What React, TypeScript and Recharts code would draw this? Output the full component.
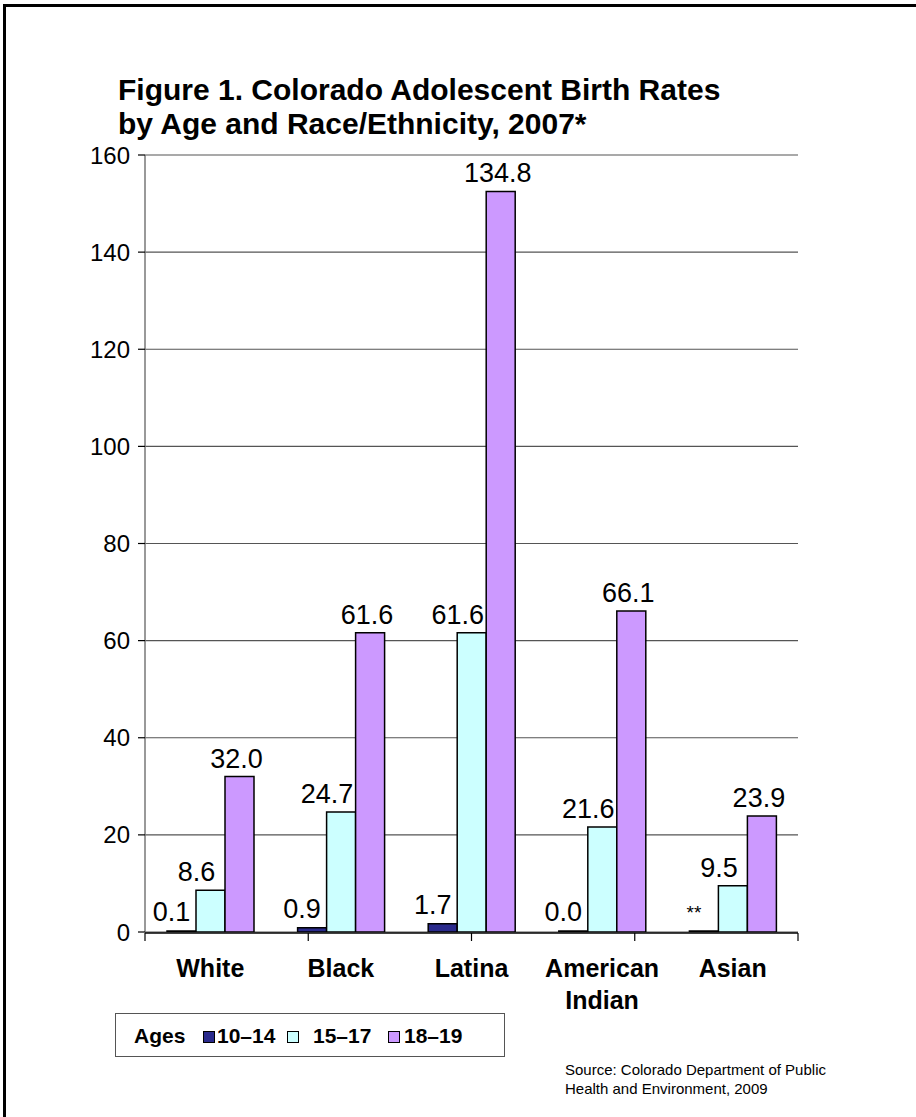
import React from "react";
import { BarChart, Bar, XAxis, YAxis, CartesianGrid, LabelList } from "recharts";

const CATEGORIES = ["White", "Black", "Latina", "American Indian", "Asian"];
const AGES_10_14 = [0.1, 0.9, 1.7, 0.0, 0];
const AGES_15_17 = [8.6, 24.7, 61.6, 21.6, 9.5];
// bar heights as drawn in the figure (the Latina bar is drawn well above its 134.8 label)
const AGES_18_19 = [32.0, 61.6, 152.5, 66.1, 23.9];
const LABELS_10_14 = ["0.1", "0.9", "1.7", "0.0", "**"];
const LABELS_15_17 = ["8.6", "24.7", "61.6", "21.6", "9.5"];
const LABELS_18_19 = ["32.0", "61.6", "134.8", "66.1", "23.9"];
const Y_TICKS = [0, 20, 40, 60, 80, 100, 120, 140, 160];
const BOUNDARY_TICKS = [0, 1, 2, 3, 4, 5];

const SERIES = [
  { key: "a", name: "10–14", color: "#2a2a8c" },
  { key: "b", name: "15–17", color: "#ccffff" },
  { key: "c", name: "18–19", color: "#cc99ff" },
];

const FONT = "Arial, 'Liberation Sans', sans-serif";

const data = CATEGORIES.map((name, i) => ({
  name,
  a: AGES_10_14[i],
  b: AGES_15_17[i],
  c: AGES_18_19[i],
  aLabel: LABELS_10_14[i],
  bLabel: LABELS_15_17[i],
  cLabel: LABELS_18_19[i],
}));

function CategoryTick(props: { x?: number; y?: number; payload?: { value?: string } }) {
  const { x = 0, y = 0, payload } = props;
  const words = String(payload?.value ?? "").split(" ");
  return (
    <text
      x={x}
      y={y}
      textAnchor="middle"
      fontFamily={FONT}
      fontWeight="bold"
      fontSize={25}
      fill="#000"
    >
      {words.map((w, i) => (
        <tspan key={i} x={x} dy={i === 0 ? 37 : 32}>
          {w}
        </tspan>
      ))}
    </text>
  );
}

function SmallLabel(props: {
  x?: number;
  y?: number;
  width?: number;
  value?: string | number;
}) {
  const { x = 0, y = 0, width = 0, value } = props;
  const stars = value === "**";
  return (
    <text
      x={x + width / 2 - 10}
      y={y - (stars ? 12 : 10)}
      textAnchor="middle"
      fontFamily={FONT}
      fontSize={stars ? 19 : 27}
      fill="#000"
    >
      {value}
    </text>
  );
}

const legendSwatch = (color: string) => ({
  position: "absolute" as const,
  top: 17,
  width: 10,
  height: 10,
  background: color,
  border: "1.5px solid #000",
});

export default function App() {
  return (
    <div
      style={{
        position: "absolute",
        left: 0,
        top: 0,
        width: 916,
        height: 1117,
        background: "#fff",
        overflow: "hidden",
      }}
    >
      <div
        style={{
          position: "absolute",
          left: 3,
          top: 4,
          width: 1000,
          height: 1200,
          borderTop: "3px solid #000",
          borderLeft: "3px solid #000",
        }}
      />
      <div
        style={{
          position: "absolute",
          left: 118,
          top: 73,
          fontFamily: FONT,
          fontWeight: "bold",
          fontSize: 30,
          lineHeight: "34px",
          color: "#000",
        }}
      >
        Figure 1. Colorado Adolescent Birth Rates
        <br />
        by Age and Race/Ethnicity, 2007*
      </div>

      <div style={{ position: "absolute", left: 0, top: 0 }}>
        <BarChart
          width={916}
          height={1117}
          data={data}
          margin={{ top: 155, right: 118, bottom: 104, left: 85 }}
          barSize={29}
          barGap={0}
        >
          <CartesianGrid horizontal vertical={false} stroke="#555" strokeWidth={1.2} />
          {/* category names: a 1px-high axis sitting on the plot bottom, text drawn below it */}
          <XAxis
            dataKey="name"
            height={1}
            axisLine={false}
            tickLine={false}
            interval={0}
            tick={<CategoryTick />}
          />
          {/* tick marks between the category groups */}
          <XAxis
            xAxisId="edges"
            type="number"
            domain={[0, 5]}
            ticks={BOUNDARY_TICKS}
            height={80}
            tick={() => <g />}
            tickSize={8}
            tickLine={{ stroke: "#000", strokeWidth: 1.2 }}
            axisLine={{ stroke: "#000", strokeWidth: 1.5 }}
          />
          <YAxis
            domain={[0, 160]}
            ticks={Y_TICKS}
            allowDataOverflow
            width={60}
            tickSize={7}
            tickMargin={8}
            tick={{ fontFamily: FONT, fontSize: 24, fill: "#000" }}
            tickLine={{ stroke: "#000", strokeWidth: 1.2 }}
            axisLine={{ stroke: "#777", strokeWidth: 1.5 }}
          />
          <YAxis
            yAxisId="right"
            orientation="right"
            domain={[0, 160]}
            width={0}
            tick={false}
            tickLine={false}
            axisLine={{ stroke: "#999", strokeWidth: 1.5 }}
          />
          <Bar
            dataKey="a"
            name={SERIES[0].name}
            fill={SERIES[0].color}
            stroke="#000"
            strokeWidth={1.5}
            minPointSize={1}
            isAnimationActive={false}
          >
            <LabelList dataKey="aLabel" content={<SmallLabel />} />
          </Bar>
          <Bar
            dataKey="b"
            name={SERIES[1].name}
            fill={SERIES[1].color}
            stroke="#000"
            strokeWidth={1.5}
            isAnimationActive={false}
          >
            <LabelList dataKey="bLabel" position="top" offset={9} dx={-14} fontFamily={FONT} fontSize={27} fill="#000" />
          </Bar>
          <Bar
            dataKey="c"
            name={SERIES[2].name}
            fill={SERIES[2].color}
            stroke="#000"
            strokeWidth={1.5}
            isAnimationActive={false}
          >
            <LabelList dataKey="cLabel" position="top" offset={9} dx={-3} fontFamily={FONT} fontSize={27} fill="#000" />
          </Bar>
        </BarChart>
      </div>

      <div
        style={{
          position: "absolute",
          left: 115,
          top: 1013,
          width: 390,
          height: 44,
          boxSizing: "border-box",
          border: "1.5px solid #555",
          fontFamily: FONT,
          fontWeight: "bold",
          fontSize: 21,
          color: "#000",
        }}
      >
        <span style={{ position: "absolute", left: 18, top: 10 }}>Ages</span>
        {SERIES.map((s, i) => {
          const swatchLeft = [87, 171, 272][i];
          const textLeft = [101, 197, 288][i];
          return (
            <React.Fragment key={s.key}>
              <span style={{ ...legendSwatch(s.color), left: swatchLeft }} />
              <span style={{ position: "absolute", left: textLeft, top: 10 }}>{s.name}</span>
            </React.Fragment>
          );
        })}
      </div>

      <div
        style={{
          position: "absolute",
          left: 565,
          top: 1060,
          fontFamily: FONT,
          fontSize: 15,
          lineHeight: "19px",
          color: "#000",
        }}
      >
        Source: Colorado Department of Public
        <br />
        Health and Environment, 2009
      </div>
    </div>
  );
}
